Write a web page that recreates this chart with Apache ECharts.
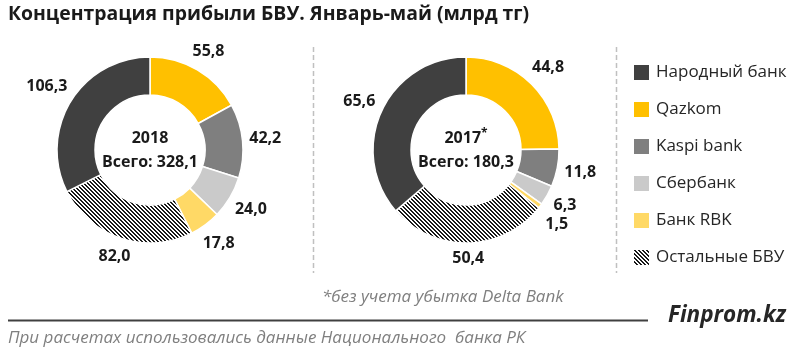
<!DOCTYPE html>
<html>
<head>
<meta charset="utf-8">
<script src="https://cdn.jsdelivr.net/npm/echarts@6/dist/echarts.min.js"></script>
<style>
html,body{margin:0;padding:0;background:#fff;}
#chart{width:800px;height:355px;}
</style>
</head>
<body>
<div id="chart"></div>
<script>
// ---- data ----
const categories = ['Qazkom', 'Kaspi bank', 'Сбербанк', 'Банк RBK', 'Остальные БВУ', 'Народный банк'];
const values2018 = [55.8, 42.2, 24.0, 17.8, 82.0, 106.3];
const values2017 = [44.8, 11.8, 6.3, 1.5, 50.4, 65.6];
const years = ['2018', '2017'];
const yearMarks = ['', '*'];
const totals = [328.1, 180.3];
const legendOrder = ['Народный банк', 'Qazkom', 'Kaspi bank', 'Сбербанк', 'Банк RBK', 'Остальные БВУ'];
const titleText = 'Концентрация прибыли БВУ. Январь-май (млрд тг)';
const footnoteText = '*без учета убытка Delta Bank';
const sourceText = 'При расчетах использовались данные Национального  банка РК';
const brandText = 'Finprom.kz';

// ---- style ----
const FONT = '"Open Sans", "Noto Sans", sans-serif';
const centers = [[150, 150], [466, 150]];
const radius = [55, 93];
const LABEL_GAP = 6;

function hatch() {
  const c = document.createElement('canvas');
  c.width = 4; c.height = 4;
  const ctx = c.getContext('2d');
  ctx.fillStyle = '#ffffff';
  ctx.fillRect(0, 0, 4, 4);
  ctx.fillStyle = '#1a1a1a';
  for (let y = 0; y < 4; y++) {
    for (let x = 0; x < 4; x++) {
      if ((((x - y) % 4) + 4) % 4 < 2) ctx.fillRect(x, y, 1, 1);
    }
  }
  return { image: c, repeat: 'repeat' };
}
const palette = ['#FFC000', '#7F7F7F', '#CACACA', '#FFD966', hatch(), '#404040'];

function fmt(v) { return v.toFixed(1).replace('.', ','); }

const placed = {};
function labelLayout(p) {
  const pts = p.labelLinePoints;
  if (!pts) return {};
  const c = centers[p.seriesIndex];
  const dx = pts[0][0] - c[0], dy = pts[0][1] - c[1];
  const len = Math.hypot(dx, dy);
  const ux = dx / len, uy = dy / len;
  const w = p.labelRect.width, h = p.labelRect.height;
  const d = len + LABEL_GAP + Math.abs(ux) * w / 2 + Math.abs(uy) * h / 2;
  let x = c[0] + ux * d, y = c[1] + uy * d;
  const key = p.seriesIndex;
  placed[key] = placed[key] || {};
  // resolve overlap with earlier labels of the same ring
  for (let i = 0; i < p.dataIndex; i++) {
    const q = placed[key][i];
    if (!q) continue;
    const ox = Math.abs(q.x - x) < (q.w + w) / 2;
    const oy = Math.abs(q.y - y) < (q.h + h) / 2;
    if (ox && oy) {
      if (y >= q.y) y = q.y + (q.h + h) / 2 + 1;
      else y = q.y - (q.h + h) / 2 - 1;
    }
  }
  placed[key][p.dataIndex] = { x: x, y: y, w: w, h: h };
  return { x: x, y: y, align: 'center', verticalAlign: 'middle' };
}

function makeSeries(vals, idx) {
  return {
    type: 'pie',
    center: centers[idx],
    radius: radius,
    startAngle: 90,
    clockwise: true,
    avoidLabelOverlap: false,
    animation: false,
    itemStyle: { borderColor: '#ffffff', borderWidth: 1.5 },
    label: {
      show: true,
      position: 'outside',
      formatter: p => fmt(p.value),
      fontFamily: FONT,
      fontSize: 16,
      fontWeight: 'bold',
      color: '#1a1a1a',
      lineHeight: 18
    },
    labelLine: { show: true, length: 6, length2: 0, lineStyle: { opacity: 0 } },
    labelLayout: labelLayout,
    emphasis: { disabled: true },
    data: categories.map((n, i) => ({ name: n, value: vals[i], itemStyle: { color: palette[i] } }))
  };
}

function centerTexts(i) {
  return [
    {
      type: 'text', x: centers[i][0], y: centers[i][1] - 12,
      style: {
        text: years[i] + (yearMarks[i] ? '{sup|' + yearMarks[i] + '}' : ''),
        align: 'center', verticalAlign: 'middle',
        font: 'bold 16px ' + FONT, fill: '#1a1a1a',
        rich: { sup: { fontSize: 12, fontWeight: 'bold', fontFamily: FONT, verticalAlign: 'top', padding: [0, 0, 8, 0] } }
      }
    },
    {
      type: 'text', x: centers[i][0], y: centers[i][1] + 12,
      style: {
        text: 'Всего: ' + fmt(totals[i]),
        align: 'center', verticalAlign: 'middle',
        font: 'bold 16px ' + FONT, fill: '#1a1a1a'
      }
    }
  ];
}

const chart = echarts.init(document.getElementById('chart'), null, { renderer: 'canvas' });
chart.setOption({
  backgroundColor: '#ffffff',
  animation: false,
  title: {
    text: titleText, left: 8, top: 5, padding: 0,
    textStyle: { fontFamily: FONT, fontSize: 19.4, fontWeight: 'bold', color: '#1a1a1a' }
  },
  legend: {
    orient: 'vertical', left: 632, top: 63, padding: 0,
    data: legendOrder,
    icon: 'rect', itemWidth: 17, itemHeight: 17, itemGap: 18,
    selectedMode: false,
    textStyle: { fontFamily: FONT, fontSize: 17, color: '#262626', lineHeight: 17, padding: [0, 0, 0, 1] }
  },
  series: [makeSeries(values2018, 0), makeSeries(values2017, 1)],
  graphic: [
    { type: 'line', shape: { x1: 313.5, y1: 47, x2: 313.5, y2: 273 }, style: { stroke: '#c0c0c0', lineWidth: 1.5, lineDash: [5, 3] } },
    { type: 'line', shape: { x1: 616.5, y1: 47, x2: 616.5, y2: 273 }, style: { stroke: '#c0c0c0', lineWidth: 1.5, lineDash: [5, 3] } },
    { type: 'line', shape: { x1: 8, y1: 320.5, x2: 648, y2: 320.5 }, style: { stroke: '#404040', lineWidth: 2 } },
    { type: 'text', x: 322, y: 297, style: { text: footnoteText, verticalAlign: 'middle', font: 'italic 17px ' + FONT, fill: '#7f7f7f' } },
    { type: 'text', x: 8, y: 338, style: { text: sourceText, verticalAlign: 'middle', font: 'italic 17px ' + FONT, fill: '#7f7f7f' } },
    { type: 'text', x: 668, y: 316, style: { text: brandText, verticalAlign: 'middle', font: 'italic bold 22.5px ' + FONT, fill: '#262626' } }
  ].concat(centerTexts(0), centerTexts(1))
});
</script>
</body>
</html>
